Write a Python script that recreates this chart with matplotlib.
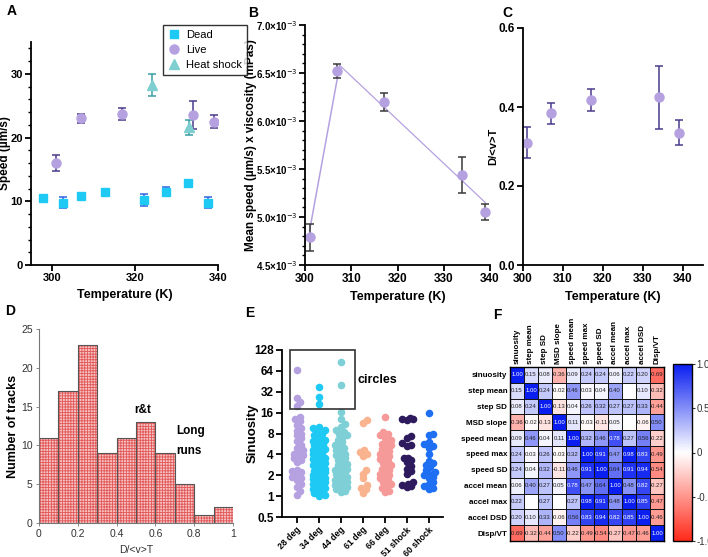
import numpy as np
import matplotlib
matplotlib.use("Agg")
import matplotlib.pyplot as plt
from matplotlib.ticker import MultipleLocator, FuncFormatter, FixedLocator, LogLocator, NullFormatter
from matplotlib.colors import LinearSegmentedColormap
from matplotlib.patches import Rectangle

plt.rcParams["font.family"] = ["Liberation Sans", "DejaVu Sans"]
plt.rcParams["hatch.linewidth"] = 0.6

# ---------------- data ----------------
# A: speed vs temperature
dead_T = [298, 302.6, 307, 312.8, 322.2, 327.4, 332.8, 337.6]
dead_v = [10.5, 9.8, 10.9, 11.4, 10.2, 11.5, 12.8, 9.8]
dead_err = [0.0, 0.9, 0.3, 0.3, 1.0, 0.7, 0.6, 0.9]
live_T = [301, 307, 317, 334, 339]
live_v = [16.0, 23.0, 23.7, 23.5, 22.5]
live_err = [1.2, 0.7, 0.9, 2.2, 1.0]
heat_T = [324, 333]
heat_v = [28.3, 21.6]
heat_err = [1.7, 1.2]

# B: speed x viscosity
visc_v = [4.79e-3, 6.52e-3, 6.20e-3, 5.44e-3, 5.05e-3]
visc_err = [0.14e-3, 0.075e-3, 0.095e-3, 0.185e-3, 0.085e-3]
rise_T = [301, 307.5]
rise_v = [4.86e-3, 6.58e-3]
fit_T = [307.5, 339]
fit_v = [6.58e-3, 5.15e-3]

# C: D/<v>T vs temperature
dvt_v = [0.31, 0.384, 0.418, 0.425, 0.335]
dvt_err = [0.04, 0.027, 0.028, 0.08, 0.032]

# D: histogram of D/<v>T
bin_left = [0.0, 0.1, 0.2, 0.3, 0.4, 0.5, 0.6, 0.7, 0.8, 0.9]
bin_counts = [11, 17, 23, 9, 11, 13, 9, 5, 1, 2]

# E: sinuosity per condition
groups = ["28 deg", "34 deg", "44 deg", "61 deg", "66 deg", "51 shock", "60 shock"]
sin_28 = [65, 26, 23, 20, 14, 13, 12, 10.5, 9.5, 8.8, 8, 7.5, 6.8, 6.2, 5.5, 5, 4.6,
          4.3, 4.1, 3.9, 3.7, 3.5, 3.3, 3.1, 2.4, 2.3, 2.2, 2.1, 1.9, 1.8, 1.7, 1.5,
          1.35, 1.2, 1.05]
sin_34 = [38, 27, 21, 10, 9.5, 9, 8.5, 8, 7.5, 7, 6.5, 6.2, 6, 5.7, 5.4, 5.1, 4.8, 4.6,
          4.4, 4.2, 4, 3.8, 3.6, 3.4, 3.3, 3.1, 3, 2.9, 2.8, 2.7, 2.6, 2.5, 2.4, 2.3,
          2.2, 2.1, 2, 1.95, 1.9, 1.85, 1.8, 1.75, 1.7, 1.65, 1.6, 1.55, 1.5, 1.45,
          1.4, 1.35, 1.3, 1.25, 1.2, 1.15, 1.1, 1.05, 1.02]
sin_44 = [85, 40, 16.4, 13, 11, 10, 9, 8.5, 8, 7.5, 7, 6.5, 6, 5.5, 5.2, 4.9, 4.6, 4.3,
          4.1, 3.9, 3.7, 3.5, 3.3, 3.1, 2.9, 2.8, 2.6, 2.5, 2.4, 2.3, 2.2, 2.1, 2, 1.9,
          1.8, 1.75, 1.7, 1.65, 1.6, 1.55, 1.5, 1.45, 1.4, 1.35, 1.3, 1.25, 1.2, 1.15]
sin_61 = [12.5, 11.5, 4.6, 4.3, 4.1, 3.8, 2.4, 2.1, 1.8, 1.45, 1.3, 1.25, 1.1]
sin_66 = [14, 8.5, 8, 7.5, 7, 6.5, 6, 5.7, 5.4, 5.1, 4.8, 4.5, 4.2, 4, 3.8, 3.6, 3.4,
          3.2, 3, 2.8, 2.6, 2.5, 2.4, 2.2, 2.1, 2, 1.9, 1.8, 1.7, 1.6, 1.5, 1.4, 1.3,
          1.2, 1.15]
sin_51s = [13.5, 13, 12.8, 12.5, 7.3, 7, 5.8, 5.5, 5.3, 3.6, 3.5, 3.3, 3.1, 2.7, 2.5,
           2.3, 2.1, 1.6, 1.5, 1.45, 1.4, 1.35]
sin_60s = [16, 8, 7.5, 6, 5.6, 5.3, 5, 4, 3.2, 3, 2.8, 2.6, 2.4, 2.2, 2.1, 2, 1.9, 1.8,
           1.6, 1.5, 1.4, 1.3, 1.25]
group_vals = [sin_28, sin_34, sin_44, sin_61, sin_66, sin_51s, sin_60s]
group_colors = ["#b5a1e0", "#1ec9f4", "#7fd0d6", "#f9b38f", "#f59a98", "#2d1b5e", "#1f6ff2"]

# F: correlation matrix (nan = blank cell)
feat = ["sinuosity", "step mean", "step SD", "MSD slope", "speed mean", "speed max",
        "speed SD", "accel mean", "accel max", "accel DSD", "Disp/VT"]
corr = [
    [1.00, 0.15, 0.08, -0.36, 0.09, 0.24, 0.24, 0.06, 0.22, 0.20, -0.69],
    [0.15, 1.00, 0.24, -0.02, 0.46, 0.03, 0.04, 0.40, np.nan, 0.10, -0.32],
    [0.08, 0.24, 1.00, -0.13, 0.04, 0.26, 0.32, 0.27, 0.27, 0.33, -0.44],
    [-0.36, -0.02, -0.13, 1.00, 0.11, -0.03, -0.11, 0.05, np.nan, -0.06, 0.50],
    [0.09, 0.46, 0.04, 0.11, 1.00, 0.32, 0.46, 0.78, 0.27, 0.56, -0.22],
    [0.24, 0.03, 0.26, -0.03, 0.32, 1.00, 0.91, 0.47, 0.98, 0.83, -0.49],
    [0.24, 0.04, 0.32, -0.11, 0.46, 0.91, 1.00, 0.64, 0.91, 0.94, -0.54],
    [0.06, 0.40, 0.27, 0.05, 0.78, 0.47, 0.64, 1.00, 0.48, 0.82, -0.27],
    [0.22, np.nan, 0.27, np.nan, 0.27, 0.98, 0.91, 0.48, 1.00, 0.85, -0.47],
    [0.20, 0.10, 0.33, -0.06, 0.56, 0.83, 0.94, 0.82, 0.85, 1.00, -0.46],
    [-0.69, -0.32, -0.44, 0.50, -0.22, -0.49, -0.54, -0.27, -0.47, -0.46, 1.00],
]

W, H = 708, 557


def px_axes(fig, left, top, right, bottom):
    return fig.add_axes([left / W, 1 - bottom / H, (right - left) / W, (bottom - top) / H])


def prism_style(ax, lw=1.3, size=8.5):
    ax.spines["top"].set_visible(False)
    ax.spines["right"].set_visible(False)
    for s in ("left", "bottom"):
        ax.spines[s].set_linewidth(lw)
    ax.tick_params(which="major", direction="out", length=4, width=lw, labelsize=size, pad=2)
    ax.tick_params(which="minor", direction="out", length=2.5, width=1.0)
    for lab in ax.get_xticklabels() + ax.get_yticklabels():
        lab.set_fontweight("bold")


def ylabel_at(ax, x_px, left_px, right_px):
    # x_px is where the right edge of the rotated label sits
    ax.yaxis.set_label_coords((x_px - left_px) / (right_px - left_px), 0.5)


def swarm(vals, col_px=22.0, oct_px=20.7, mind=4.6, maxw=0.28):
    y = np.log2(np.asarray(vals, float)) * oct_px
    order = np.argsort(y)
    offs = np.zeros(len(y))
    placed = []
    cands = [0.0]
    for k in range(1, 12):
        cands += [k * 1.5, -k * 1.5]
    cands = [c for c in cands if abs(c) <= maxw * col_px]
    for i in order:
        best, best_d = 0.0, -1
        for c in cands:
            d = min([np.hypot(c - px, y[i] - py) for px, py in placed] or [1e9])
            if d >= mind:
                best = c
                break
            if d > best_d:
                best, best_d = c, d
        offs[i] = best / col_px
        placed.append((best, y[i]))
    return offs


fig = plt.figure(figsize=(W / 100, H / 100), dpi=100)

# ---------------- A ----------------
axA = px_axes(fig, 31, 42, 218, 265)
axA.errorbar(dead_T, dead_v, yerr=dead_err, fmt="s", ms=6, color="#1ec9f4",
             ecolor="#2f63e0", elinewidth=1.1, capsize=3, capthick=1.1, label="Dead")
axA.errorbar(live_T, live_v, yerr=live_err, fmt="o", ms=6.5, color="#b5a1e0",
             ecolor="#4b3b8b", elinewidth=1.1, capsize=3, capthick=1.1, label="Live")
axA.errorbar(heat_T, heat_v, yerr=heat_err, fmt="^", ms=6.5, color="#7fcfd0",
             ecolor="#3a9ea3", elinewidth=1.1, capsize=3, capthick=1.1, label="Heat shock")
axA.set_xlim(295, 340)
axA.set_ylim(0, 35)
axA.set_xticks([300, 320, 340])
axA.set_yticks([0, 10, 20, 30])
axA.yaxis.set_minor_locator(MultipleLocator(2))
axA.set_xlabel("Temperature (K)", fontsize=9, fontweight="bold", labelpad=4)
axA.set_ylabel("Speed (µm/s)", fontsize=8.5, fontweight="bold")
ylabel_at(axA, 11, 31, 218)
prism_style(axA, size=8)
h, l = axA.get_legend_handles_labels()
h = [x[0] for x in h]
leg = fig.legend(h, l, loc="upper left", bbox_to_anchor=(163 / W, 1 - 25 / H),
                 borderaxespad=0, fontsize=8, frameon=True, fancybox=False,
                 edgecolor="black", handlelength=1.0, handletextpad=0.6,
                 borderpad=0.45, labelspacing=0.45)
leg.get_frame().set_linewidth(1.0)

# ---------------- B ----------------
axB = px_axes(fig, 305, 25, 490, 265)
axB.plot(rise_T, rise_v, color="#b5a1e0", lw=1.1)
axB.plot(fit_T, fit_v, color="#b5a1e0", lw=0.9)
axB.errorbar(live_T, visc_v, yerr=visc_err, fmt="o", ms=6.5, color="#b5a1e0",
             ecolor="#3a3a3a", elinewidth=1.1, capsize=3, capthick=1.1)
axB.set_xlim(300, 340)
axB.set_ylim(4.5e-3, 7.0e-3)
axB.set_xticks([300, 310, 320, 330, 340])
axB.yaxis.set_major_locator(MultipleLocator(0.5e-3))
axB.yaxis.set_minor_locator(MultipleLocator(0.1e-3))
axB.yaxis.set_major_formatter(FuncFormatter(lambda x, p: f"{x * 1e3:.1f}×10$^{{-3}}$"))
axB.set_xlabel("Temperature (K)", fontsize=9, fontweight="bold", labelpad=4)
axB.set_ylabel("Mean speed (µm/s) x viscosity (mPas)", fontsize=8.5, fontweight="bold")
ylabel_at(axB, 257, 305, 490)
prism_style(axB)
axB.tick_params(axis="y", labelsize=7, pad=1.5)
for lab in axB.get_yticklabels():
    lab.set_fontweight("bold")

# ---------------- C ----------------
axC = px_axes(fig, 523, 28, 703, 265)
axC.errorbar(live_T, dvt_v, yerr=dvt_err, fmt="o", ms=6.5, color="#b5a1e0",
             ecolor="#4b3b8b", elinewidth=1.1, capsize=3, capthick=1.1)
axC.set_xlim(300, 345)
axC.set_ylim(0, 0.6)
axC.set_xticks([300, 310, 320, 330, 340])
axC.set_yticks([0.0, 0.2, 0.4, 0.6])
axC.yaxis.set_major_formatter(FuncFormatter(lambda x, p: f"{x:.1f}"))
axC.set_xlabel("Temperature (K)", fontsize=9, fontweight="bold", labelpad=4)
axC.set_ylabel("D/<v>T", fontsize=8, fontweight="bold")
ylabel_at(axC, 498, 523, 703)
prism_style(axC)

# ---------------- D ----------------
axD = px_axes(fig, 39, 329, 233, 523)
axD.bar(bin_left, bin_counts, width=0.1, align="edge", facecolor="#f6c2c2",
        edgecolor="#e25858", hatch="++++++", linewidth=0)
axD.bar(bin_left, bin_counts, width=0.1, align="edge", fill=False,
        edgecolor="#555555", linewidth=0.8)
axD.set_xlim(0, 1)
axD.set_ylim(0, 25)
axD.set_xticks([0, 0.2, 0.4, 0.6, 0.8, 1.0])
axD.set_xticklabels(["0", "0.2", "0.4", "0.6", "0.8", "1"])
axD.set_yticks([0, 5, 10, 15, 20, 25])
for s in ("top", "right"):
    axD.spines[s].set_visible(False)
for s in ("left", "bottom"):
    axD.spines[s].set_color("#777777")
    axD.spines[s].set_linewidth(0.8)
axD.tick_params(direction="out", length=2.5, width=0.6, colors="#777777",
                labelcolor="#333333", labelsize=7.5, pad=2)
axD.set_xlabel("D/<v>T", fontsize=7.5, color="#333333", labelpad=4)
axD.set_ylabel("Number of tracks", fontsize=9, fontweight="bold")
ylabel_at(axD, 19, 39, 233)
axD.text(0.535, 14.6, "r&t", fontsize=8.5, fontweight="bold", ha="center", va="center")
axD.text(0.705, 11.8, "Long", fontsize=8.5, fontweight="bold", ha="left", va="center")
axD.text(0.705, 9.3, "runs", fontsize=8.5, fontweight="bold", ha="left", va="center")

# ---------------- E ----------------
axE = px_axes(fig, 282, 350, 443, 517)
for i, (vals, c) in enumerate(zip(group_vals, group_colors)):
    offs = swarm(vals)
    axE.scatter(i + offs, vals, s=30, color=c, linewidths=0, zorder=3)
axE.set_yscale("log", base=2)
axE.set_ylim(0.5, 128)
axE.set_xlim(-0.67, 6.65)
yt = [0.5, 1, 2, 4, 8, 16, 32, 64, 128]
axE.yaxis.set_major_locator(FixedLocator(yt))
axE.yaxis.set_major_formatter(FuncFormatter(lambda x, p: f"{x:g}"))
axE.yaxis.set_minor_locator(LogLocator(base=2, subs=[1.25, 1.5, 1.75]))
axE.yaxis.set_minor_formatter(NullFormatter())
axE.set_xticks(range(len(groups)))
axE.set_xticklabels(groups, rotation=45, ha="right", rotation_mode="anchor")
axE.set_ylabel("Sinuosity", fontsize=9.5, fontweight="bold")
ylabel_at(axE, 259, 282, 443)
prism_style(axE)
axE.tick_params(axis="x", labelsize=6.3, pad=2)
axE.tick_params(axis="y", labelsize=8.5)
for lab in axE.get_xticklabels() + axE.get_yticklabels():
    lab.set_fontweight("bold")
axE.add_patch(Rectangle((-0.3, 18.3), 2.95, 128 - 18.3, fill=False, edgecolor="#333333",
                        linewidth=1.2, clip_on=False, zorder=4))
axE.text(2.76, 48, "circles", fontsize=9, fontweight="bold", ha="left", va="center")

# ---------------- F ----------------
axF = px_axes(fig, 510, 367, 664, 541)
cmap = LinearSegmentedColormap.from_list("bwr_prism", ["#ff2a1a", "#ffffff", "#0a1ef0"])
M = np.ma.masked_invalid(np.array(corr))
im = axF.imshow(M, cmap=cmap, vmin=-1, vmax=1, aspect="auto", interpolation="nearest")
n = len(feat)
for k in range(n + 1):
    axF.axhline(k - 0.5, color="#111111", lw=0.7)
    axF.axvline(k - 0.5, color="#111111", lw=0.7)
for r in range(n):
    for c in range(n):
        v = corr[r][c]
        if np.isnan(v):
            continue
        axF.text(c, r, f"{v:.2f}", ha="center", va="center", fontsize=4.3,
                 color="white" if v > 0.7 else "#222222")
axF.set_xticks(range(n))
axF.set_yticks(range(n))
axF.xaxis.tick_top()
axF.set_xticklabels(feat, rotation=90, fontsize=5.8, fontweight="bold")
axF.set_yticklabels(feat, fontsize=5.8, fontweight="bold")
axF.tick_params(length=0, pad=2)
for s in axF.spines.values():
    s.set_linewidth(1.0)

cax = px_axes(fig, 673, 364, 692, 541)
cb = fig.colorbar(im, cax=cax, ticks=[-1, -0.5, 0, 0.5, 1])
cb.ax.set_yticklabels(["-1.0", "-0.5", "0", "0.5", "1.0"])
cb.ax.tick_params(labelsize=7, length=2, pad=1, colors="#333333")
cb.outline.set_linewidth(1.0)

# ---------------- panel letters ----------------
for letter, x, y in [("A", 7, 11), ("B", 248, 13), ("C", 502, 13),
                     ("D", 5, 311), ("E", 245, 313), ("F", 493, 315)]:
    fig.text(x / W, 1 - y / H, letter, fontsize=10, fontweight="bold", va="center")

fig.savefig("out.png", dpi=100)
